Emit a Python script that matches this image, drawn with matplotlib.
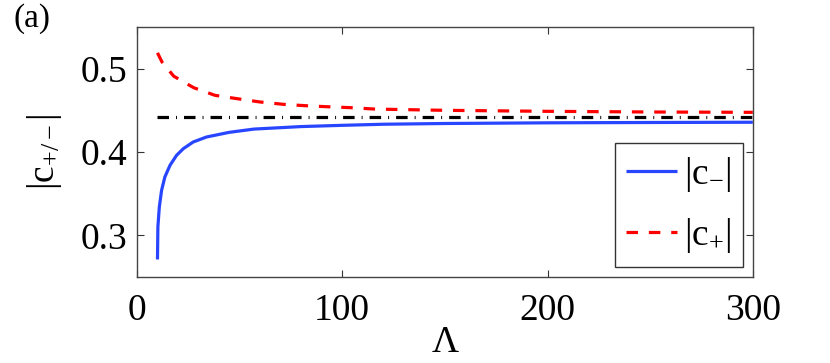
import matplotlib
matplotlib.use("Agg")
import matplotlib.pyplot as plt

# ---- data ----
lam_minus = [10, 10.2, 10.9, 12.0, 13.6, 16.1, 19.3, 22.6, 27.4, 33.9, 45, 57, 80, 100, 120, 150, 200, 250, 300]
c_minus = [0.271, 0.310, 0.334, 0.354, 0.370, 0.384, 0.396, 0.404, 0.412, 0.418, 0.4236, 0.4275, 0.4305,
           0.4320, 0.4333, 0.4342, 0.4350, 0.4354, 0.4357]

lam_plus = [10, 12.2, 17.9, 27.6, 38, 48.7, 60, 71.4, 84.4, 95.8, 104, 116, 150, 200, 250, 300]
c_plus = [0.519, 0.508, 0.491, 0.4772, 0.468, 0.464, 0.460, 0.4572, 0.4552, 0.454, 0.4532, 0.4515,
          0.4500, 0.4488, 0.4480, 0.4476]

lam_ref = [10, 300]
c_ref = [0.4416, 0.4416]

xticks = [0, 100, 200, 300]
yticks = [0.3, 0.4, 0.5]

plt.rcParams['font.family'] = ['Liberation Serif', 'DejaVu Serif']
plt.rcParams['mathtext.fontset'] = 'custom'
plt.rcParams['mathtext.rm'] = 'Liberation Serif'
plt.rcParams['mathtext.it'] = 'Liberation Serif:italic'

fig = plt.figure(figsize=(8.3, 3.63), dpi=100)
ax = fig.add_axes([0.165, 0.237, 0.742, 0.6886])

lw = 2.3
l1, = ax.plot(lam_minus, c_minus, color='#2846ff', lw=lw, solid_capstyle='butt',
              label=r'$\mathrm{|c_{-}|}$')
l2, = ax.plot(lam_plus, c_plus, color='#ff0000', lw=lw, dashes=(3.6, 3.4),
              dash_capstyle='butt', label=r'$\mathrm{|c_{+}|}$')
ax.plot(lam_ref, c_ref, color='black', lw=lw, dashes=(3.6, 2.2, 0.3, 2.2),
        dash_capstyle='butt')

ax.set_xlim(0, 300)
ax.set_ylim(0.25, 0.55)
ax.set_xticks(xticks)
ax.set_xticklabels([str(v) for v in xticks])
ax.set_yticks(yticks)
ax.set_yticklabels([f"{v:.1f}" for v in yticks])

ax.tick_params(direction='in', length=5, width=0.8, color='#333333',
               top=True, right=True, labelsize=27)
ax.tick_params(axis='y', pad=7)
ax.tick_params(axis='x', pad=12)
for s in ax.spines.values():
    s.set_color('#444444')
    s.set_linewidth(1.0)

ax.set_xlabel(r'$\Lambda$', fontsize=27, labelpad=-2)
ax.set_ylabel(r'$\mathrm{|c_{+/-}|}$', fontsize=27, labelpad=12)

leg = ax.legend(handles=[l1, l2], loc='lower right', bbox_to_anchor=(0.984, 0.04),
                borderaxespad=0, fontsize=27, handlelength=1.35, handletextpad=0.2,
                labelspacing=0.6, borderpad=0.31, fancybox=False, frameon=True)
leg.get_frame().set_edgecolor('black')
leg.get_frame().set_linewidth(1.0)

fig.text(0.016, 0.925, '(a)', fontsize=24)

fig.savefig('out.png', dpi=100)
